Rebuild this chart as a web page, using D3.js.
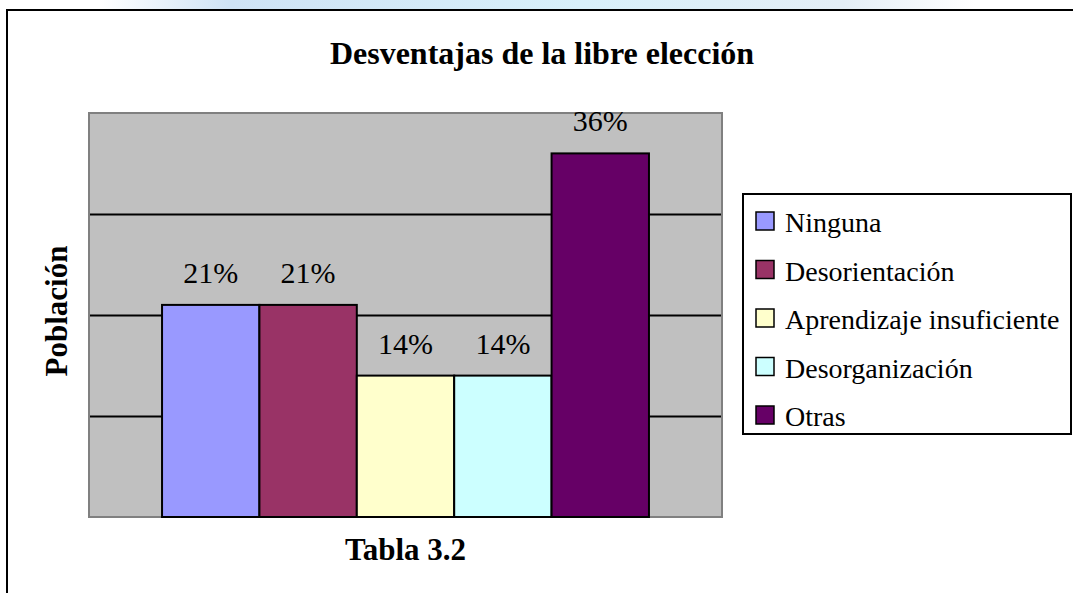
<!DOCTYPE html>
<html lang="es">
<head>
    <meta charset="UTF-8">
    <title>Desventajas de la libre elección</title>
    <style>
        body { margin: 0; background: #fff; }
        svg text { font-family: 'Liberation Serif', 'Times New Roman', serif; }
        .title { font-size: 32px; font-weight: bold; }
        .axis-title { font-size: 31px; font-weight: bold; }
        .label { font-size: 30px; }
        .legend text { font-size: 28px; }
    </style>
</head>
<body>
    <div id="chart"></div>

    <script src="https://d3js.org/d3.v7.min.js"></script>
    <script>
        // datos
        const categories = ["Ninguna", "Desorientación", "Aprendizaje insuficiente", "Desorganización", "Otras"];
        const values = [21, 21, 14, 14, 36];
        const labels = ["21%", "21%", "14%", "14%", "36%"];
        const colors = ["#9999FF", "#993366", "#FFFFCC", "#CCFFFF", "#660066"];
        const gridTicks = [10, 20, 30];

        const W = 1073, H = 593;
        const plot = {left: 89, top: 113, width: 633, height: 404};

        const svg = d3.select("#chart").append("svg")
            .attr("width", W)
            .attr("height", H);

        svg.append("rect").attr("width", W).attr("height", H).attr("fill", "#fff");

        // marca de agua arriba
        const grad = svg.append("defs").append("linearGradient").attr("id", "wm");
        grad.append("stop").attr("offset", "0%").attr("stop-color", "#ffffff");
        grad.append("stop").attr("offset", "15%").attr("stop-color", "#cfe3f5");
        grad.append("stop").attr("offset", "55%").attr("stop-color", "#d8f0fa");
        grad.append("stop").attr("offset", "85%").attr("stop-color", "#e4eef6");
        grad.append("stop").attr("offset", "100%").attr("stop-color", "#ffffff");
        svg.append("rect").attr("x", 100).attr("y", 0).attr("width", 875).attr("height", 10).attr("fill", "url(#wm)");

        // marco exterior
        svg.append("rect")
            .attr("x", 7).attr("y", 10)
            .attr("width", W + 10).attr("height", H + 10)
            .attr("fill", "none").attr("stroke", "#000").attr("stroke-width", 2);

        svg.append("text").attr("class", "title")
            .attr("x", 542).attr("y", 64)
            .attr("text-anchor", "middle")
            .text("Desventajas de la libre elección");

        const g = svg.append("g").attr("transform", `translate(${plot.left},${plot.top})`);

        const y = d3.scaleLinear().domain([0, 40]).range([plot.height, 0]);
        const x = d3.scaleBand().domain(categories).range([0, plot.width])
            .paddingInner(0).paddingOuter(0.75);

        g.append("rect")
            .attr("width", plot.width).attr("height", plot.height)
            .attr("fill", "#C0C0C0");

        g.append("g").attr("class", "grid")
            .call(d3.axisLeft(y).tickValues(gridTicks).tickSize(-plot.width).tickFormat(""))
            .call(s => s.select(".domain").remove())
            .selectAll("line").attr("stroke", "#000").attr("stroke-width", 2);

        g.append("rect")
            .attr("width", plot.width).attr("height", plot.height)
            .attr("fill", "none").attr("stroke", "#808080").attr("stroke-width", 2);

        g.selectAll(".bar")
            .data(values)
            .join("rect")
            .attr("class", "bar")
            .attr("x", (d, i) => x(categories[i]))
            .attr("y", d => y(d))
            .attr("width", x.bandwidth())
            .attr("height", d => plot.height - y(d))
            .attr("fill", (d, i) => colors[i])
            .attr("stroke", "#000").attr("stroke-width", 2);

        g.selectAll(".label")
            .data(values)
            .join("text")
            .attr("class", "label")
            .attr("x", (d, i) => x(categories[i]) + x.bandwidth() / 2)
            .attr("y", d => y(d) - 22)
            .attr("text-anchor", "middle")
            .text((d, i) => labels[i]);

        svg.append("text").attr("class", "axis-title")
            .attr("transform", "translate(67,311) rotate(-90)")
            .attr("text-anchor", "middle")
            .text("Población");

        svg.append("text").attr("class", "axis-title")
            .attr("x", plot.left + plot.width / 2).attr("y", 560)
            .attr("text-anchor", "middle")
            .text("Tabla 3.2");

        // leyenda
        const legend = svg.append("g").attr("class", "legend");
        legend.append("rect")
            .attr("x", 743).attr("y", 194)
            .attr("width", 328).attr("height", 240)
            .attr("fill", "#fff").attr("stroke", "#000").attr("stroke-width", 2);

        const items = legend.selectAll(".item")
            .data(categories)
            .join("g")
            .attr("class", "item")
            .attr("transform", (d, i) => `translate(756,${212 + i * 48.5})`);
        items.append("rect")
            .attr("width", 18).attr("height", 18)
            .attr("fill", (d, i) => colors[i])
            .attr("stroke", "#000").attr("stroke-width", 1.5);
        items.append("text")
            .attr("x", 29).attr("y", 20)
            .text(d => d);
    </script>
</body>
</html>
